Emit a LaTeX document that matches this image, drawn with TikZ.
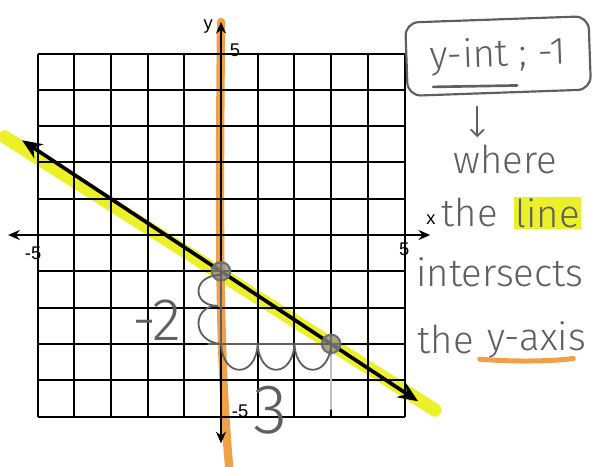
\documentclass[tikz,border=0pt]{standalone}
\usepackage{fontspec}
\setmainfont{Liberation Sans}
\newfontfamily\hand{Fira Sans Light}
\usetikzlibrary{arrows.meta,calc}
\definecolor{hlyellow}{RGB}{236,240,40}
\definecolor{hlorange}{RGB}{240,160,70}
\definecolor{pencil}{RGB}{95,95,95}

\begin{document}
\begin{tikzpicture}[x=22.02pt, y=21.78pt,
  tick/.style={font=\fontsize{11}{13}\selectfont, inner sep=1pt},
  note/.style={font=\hand\fontsize{23}{26}\selectfont, text=pencil, inner sep=1pt},
  pen/.style={draw=pencil, line width=1.1pt, line cap=round, line join=round},
  hl/.style={line width=#1, line cap=round},
  axis/.style={line width=1.3pt, {Stealth[length=7pt,width=6pt]}-{Stealth[length=7pt,width=6pt]}},
  dot/.style={circle, draw=pencil!90, fill=pencil!70, fill opacity=0.75, line width=1.3pt, minimum size=11pt, inner sep=0pt}]
  \useasboundingbox (-6.022,-6.364) rectangle (10.163,6.474);
  % highlighter strokes
  \draw[hl=8pt, hlyellow] (-5.89,2.70) -- (5.83,-4.82);
  \draw[hl=5pt, hlorange] (0,5.87) .. controls (-0.04,1) and (-0.08,-3) .. (0.22,-6.36);
  % grid and axes
  \foreach \k in {-5,...,5} {
    \draw[line width=1.2pt] (\k,-5) -- (\k,5);
    \draw[line width=1.2pt] (-5,\k) -- (5,\k);
  }
  \draw[axis] (-5.8,0) -- (5.7,0);
  \draw[axis] (0,-5.74) -- (0,5.87);
  \node[tick] (ylab) at (-0.35,5.73) {y};
  \node[tick] (ytop) at (0.38,5.1) {5};
  \node[tick] (ybot) at (0.52,-4.85) {-5};
  \node[tick] (xlab) at (5.72,0.43) {x};
  \node[tick] (xright) at (4.99,-0.39) {5};
  \node[tick] (xleft) at (-5.12,-0.5) {-5};
  % the line y = -2/3 x - 1
  \draw[line width=2.2pt, {Stealth[length=12pt,width=10pt]}-{Stealth[length=12pt,width=10pt]}] (-5.42,2.61) -- (5.37,-4.58);
  \node[dot] (yint) at (0,-1) {};
  \node[dot] (run) at (3,-3) {};
  % rise and run
  \coordinate (corner) at (0,-3);
  \draw[pen] (yint.center) -- (corner);
  \draw[pen] (-0.35,-3) -- (run.center);
  \draw[pen, pencil!40] (3,-3.3) -- (3,-4.8);
  \draw[pen] (0,-1.1) .. controls (-0.8,-1.1) and (-0.8,-1.95) .. (-0.1,-1.95)
    .. controls (-0.8,-1.95) and (-0.8,-2.95) .. (corner);
  \foreach \i in {0,1,2}
    \draw[pen] (\i,-3) .. controls (\i+0.05,-3.95) and (\i+0.95,-3.95) .. (\i+1,-3);
  \node[note, font=\hand\fontsize{36}{38}\selectfont] (rise) at (-1.75,-2.34) {-2};
  \node[note, font=\hand\fontsize{42}{44}\selectfont] (runlab) at (1.34,-4.82) {3};
  % notes on the right
  \node[note, draw=pencil, line width=1.3pt, rounded corners=8pt, minimum width=110pt, minimum height=44pt, rotate=2] (yintbox) at (7.55,4.93) {y-int ; -1};
  \draw[pen, line width=1.6pt] (5.78,4.08) -- (8.07,4.12);
  \draw[pen, -{Straight Barb[length=4pt]}] (yintbox.south) ++(-0.6,-0.35) -- ++(0,-0.85);
  \node[note] (where) at (7.74,2.07) {where};
  \node[note] (the) at (6.78,0.61) {the};
  \node[note, fill=hlyellow] (linew) at (8.9,0.61) {line};
  \node[note] (meets) at (7.60,-1.02) {intersects};
  \node[note] (theaxis) at (6.12,-2.89) {the};
  \node[note] (yaxis) at (8.6,-2.89) {y-axis};
  \draw[hl=3pt, hlorange] (7.05,-3.42) .. controls (8,-3.5) and (9,-3.48) .. (9.6,-3.40);
\end{tikzpicture}
\end{document}
